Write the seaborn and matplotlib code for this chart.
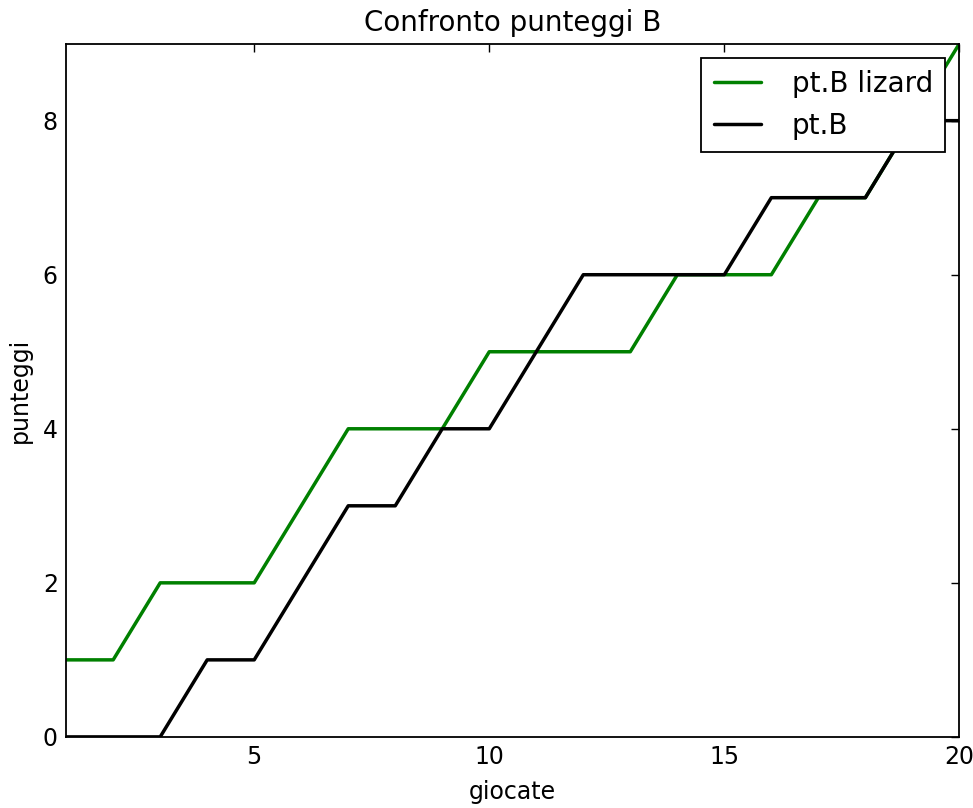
import numpy as np
import pandas as pd
import seaborn as sns
from matplotlib import pyplot as plt

# Data
giocate = list(range(1, 21))
pt_b_lizard = [1, 1, 2, 2, 2, 3, 4, 4, 4, 5, 5, 5, 5, 6, 6, 6, 7, 7, 8, 9]
pt_b = [0, 0, 0, 1, 1, 2, 3, 3, 4, 4, 5, 6, 6, 6, 6, 7, 7, 7, 8, 8]

df = pd.DataFrame({'giocate': giocate + giocate,
                   'punteggi': pt_b_lizard + pt_b,
                   'serie': ['pt.B lizard'] * 20 + ['pt.B'] * 20})

sns.set_style('white')
plt.rcParams['font.family'] = ['DejaVu Sans']
plt.rcParams['text.color'] = 'black'
plt.rcParams['axes.labelcolor'] = 'black'

fig = plt.figure(figsize=(9.73, 8.08), dpi=100)
ax = fig.add_axes([0.068, 0.088, 0.918, 0.858])

sns.lineplot(data=df, x='giocate', y='punteggi', hue='serie',
             palette={'pt.B lizard': 'green', 'pt.B': 'black'},
             linewidth=2.5, ax=ax)

# Plot settings
ax.set_xlim(1, 20)
ax.set_ylim(0, 9)
ax.set_xticks([5, 10, 15, 20])
ax.set_yticks([0, 2, 4, 6, 8])
ax.tick_params(direction='in', top=True, right=True, length=6, width=1,
               labelsize=17, colors='black', pad=6)
for s in ax.spines.values():
    s.set_color('black')
    s.set_linewidth(1.3)
ax.set_xlabel('giocate', fontsize=17, labelpad=8)
ax.set_ylabel('punteggi', fontsize=17, labelpad=8)
ax.set_title('Confronto punteggi B', fontsize=20, pad=9)

leg = ax.legend(loc='upper right', fontsize=20, fancybox=False, framealpha=1,
                edgecolor='black', borderaxespad=0.5, handlelength=1.7,
                handletextpad=1.1, borderpad=0.45, labelspacing=0.5)
leg.get_frame().set_linewidth(1.3)
for t in leg.get_texts():
    t.set_color('black')

plt.savefig('out.png', dpi=100)
